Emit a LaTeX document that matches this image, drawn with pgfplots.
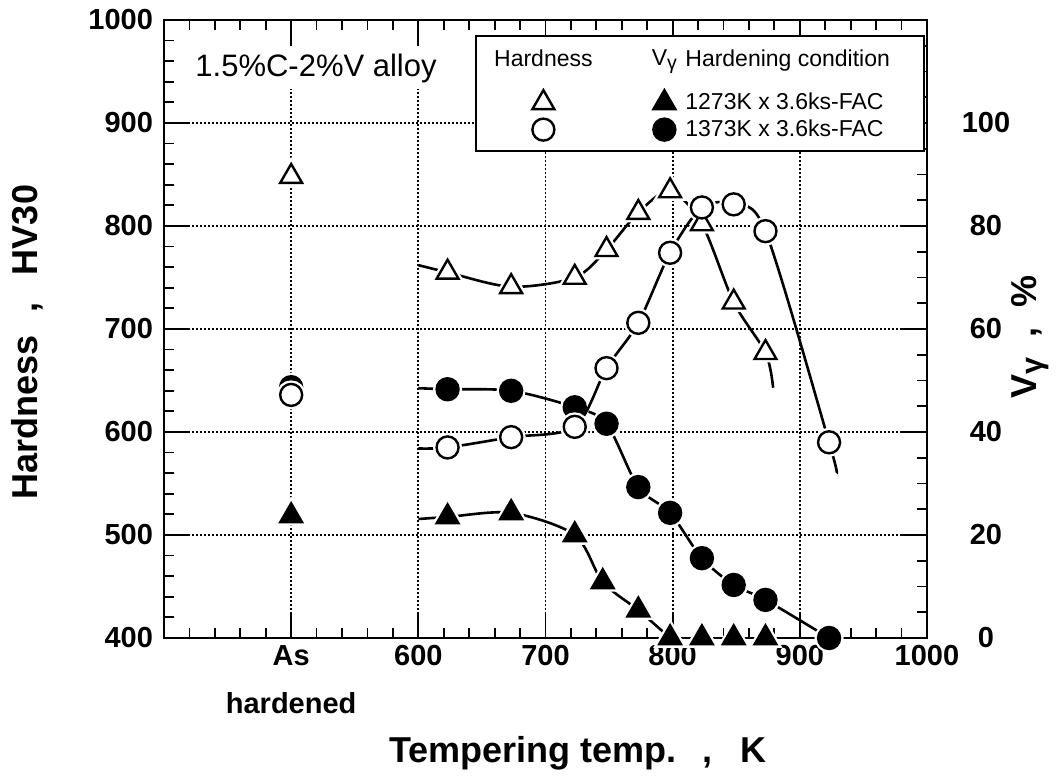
\documentclass[border=0pt]{standalone}
\usepackage{fontspec}
\setmainfont{Liberation Sans}
\usepackage{pgfplots}
\pgfplotsset{compat=1.18}

\newcommand{\tickfont}{\fontsize{14.5}{20}\selectfont\bfseries}
\newcommand{\labfont}{\fontsize{18}{21}\selectfont\bfseries}
\newcommand{\legfont}{\fontsize{11.5}{13}\selectfont}
\newcommand{\Vg}{V\raisebox{-0.35ex}{\scalebox{0.85}{γ}}}

\pgfplotsset{
  frame/.style={set layers, scale only axis, width=381.5pt, height=309pt,
    xmin=400, xmax=1000, clip=false,
    axis line style={line width=1.4pt},
    major tick length=13pt, minor tick length=5pt,
    tick style={black, line width=0.9pt},
    tick label style={font=\tickfont},
    /pgf/number format/assume math mode=true,
    /pgf/number format/1000 sep={}},
  curve/.style={black, line width=1.3pt, smooth, no markers, forget plot},
  otri/.style={black, only marks, mark=triangle*, mark size=6.3pt,
    mark options={fill=white, line width=1.2pt}},
  ftri/.style={black, only marks, mark=triangle*, mark size=6.3pt,
    mark options={fill=black, line width=1.2pt}},
  ocirc/.style={black, only marks, mark=*, mark size=5.5pt,
    mark options={fill=white, line width=1.2pt}},
  fcirc/.style={black, only marks, mark=*, mark size=5.5pt,
    mark options={fill=black, line width=1.2pt}},
  halo/.style={#1, forget plot,
    mark options={draw=white, fill=white, line width=3.5pt}},
  % legend keys with fixed cell widths: wide first column, narrow second
  legwide/.style={legend image code/.code={\path (-25pt,0pt) (25pt,0pt); \draw[##1] plot coordinates {(0pt,0pt)};}},
  legnarrow/.style={legend image code/.code={\path (-7pt,0pt) (7pt,0pt); \draw[##1] plot coordinates {(0pt,0pt)};}},
}

\begin{document}
\begin{tikzpicture}
% retained austenite, right axis
\begin{axis}[frame,
    hide x axis,
    ymin=0, ymax=120,
    ytick={0,20,...,100}, minor ytick={5,10,...,115},
    ytick pos=right, yticklabel pos=right,
    yticklabel style={anchor=center, xshift=29.5pt},
    ylabel={\Vg\hspace{10pt},\hspace{10pt}\%},
    every axis y label/.style={at={(axis description cs:1.135,0.487)},
      rotate=90, anchor=center, font=\labfont},
]
\addplot[curve] coordinates {(600,23.1) (623,23.5) (673,24.3) (723,20) (745,10.9) (773,5.4) (798,0)};
\addplot[curve] coordinates {(600,48.5) (623,48.3) (673,48.0) (723,44.8) (748,41.6) (773,29.3)
  (798,24.3) (823,15.5) (848,10.3) (873,7.4) (923,0)};
\addplot[halo=ftri] coordinates {(500,23.7) (623,23.5) (673,24.3) (723,20) (745,10.9) (773,5.4)
  (798,0) (823,0) (848,0) (873,0)};
\addplot[halo=fcirc] coordinates {(500,48.7) (623,48.3) (673,48.0) (723,44.8) (748,41.6) (773,29.3)
  (798,24.3) (823,15.5) (848,10.3) (873,7.4) (923,0)};
\addplot[ftri] coordinates {(500,23.7) (623,23.5) (673,24.3) (723,20) (745,10.9) (773,5.4)
  (798,0) (823,0) (848,0) (873,0)};
\addplot[fcirc] coordinates {(500,48.7) (623,48.3) (673,48.0) (723,44.8) (748,41.6) (773,29.3)
  (798,24.3) (823,15.5) (848,10.3) (873,7.4) (923,0)};
\end{axis}

% hardness, left axis
\begin{axis}[frame,
    ymin=400, ymax=1000,
    ytick={400,500,...,1000}, minor ytick={420,440,...,980},
    ytick pos=left,
    yticklabel style={xshift=-2pt},
    xtick={500,600,...,1000}, minor xtick={420,440,...,980},
    xticklabels={As\\[4pt]hardened,600,700,800,900,1000},
    xticklabel style={align=center},
    grid=major,
    major grid style={black, line width=0.9pt, dash pattern=on 0.9pt off 1.1pt},
    xlabel={Tempering temp.\hspace{13pt},\hspace{14pt}K},
    ylabel={Hardness\hspace{11pt},\hspace{14pt}HV30},
    every axis x label/.style={at={(axis description cs:0.5426,-0.186)},
      anchor=center, font=\labfont},
    every axis y label/.style={at={(axis description cs:-0.179,0.479)},
      rotate=90, anchor=center, font=\labfont},
    legend columns=2,
    legend cell align=left,
    legend style={at={(rel axis cs:1,1)}, anchor=north east,
      xshift=-1pt, yshift=-7.5pt, draw=black, line width=1pt, fill=white,
      inner xsep=8pt, inner ysep=5.1pt, font=\legfont, row sep=3pt,
      nodes={inner sep=0pt},
      /tikz/every odd column/.style={column sep=3pt},
      /tikz/every even column/.style={column sep=23.5pt}},
]
\addlegendimage{legend image code/.code={\path (-25pt,-12pt) (25pt,6pt); \node[anchor=center, inner sep=0pt, font=\legfont] at (0pt,0pt) {Hardness};}}
\addlegendentry{\mbox{}}
\addlegendimage{legend image code/.code={\path (-7pt,-12pt) (7pt,6pt); \node[anchor=center, inner sep=0pt, font=\legfont] at (0pt,0pt) {\Vg};}}
\addlegendentry{Hardening condition\kern9pt\mbox{}}

\addplot[curve] coordinates {(600,762) (623,755) (673,741) (723,750) (748,777) (773,813)
  (798,834) (823,802) (848,726) (873,677) (879,643)};
\addplot[curve] coordinates {(600,584) (623,585) (673,595) (723,605) (748,662) (773,706)
  (798,774) (823,818) (848,821) (873,795) (923,590) (929,560)};
\addplot[halo=otri] coordinates {(500,848) (623,755) (673,741) (723,750) (748,777) (773,813)
  (798,834) (823,802) (848,726) (873,677)};
\addplot[halo=ocirc] coordinates {(500,636) (623,585) (673,595) (723,605) (748,662) (773,706)
  (798,774) (823,818) (848,821) (873,795) (923,590)};

\addplot[otri, legwide] coordinates {(500,848) (623,755) (673,741) (723,750) (748,777) (773,813)
  (798,834) (823,802) (848,726) (873,677)};
\addlegendentry{\mbox{}}
\addlegendimage{ftri, legnarrow}
\addlegendentry{1273K x 3.6ks-FAC}
\addplot[ocirc, legwide] coordinates {(500,636) (623,585) (673,595) (723,605) (748,662) (773,706)
  (798,774) (823,818) (848,821) (873,795) (923,590)};
\addlegendentry{\mbox{}}
\addlegendimage{fcirc, legnarrow}
\addlegendentry{1373K x 3.6ks-FAC}

\node[anchor=west, fill=white, inner sep=3pt, font=\fontsize{15.5}{18}\selectfont]
  at (rel axis cs:0.0328,0.922) {1.5\%C-2\%V alloy};
\end{axis}
\pgfresetboundingbox
\useasboundingbox (-82pt,-69.5pt) rectangle (446.5pt,319pt);
\end{tikzpicture}
\end{document}
